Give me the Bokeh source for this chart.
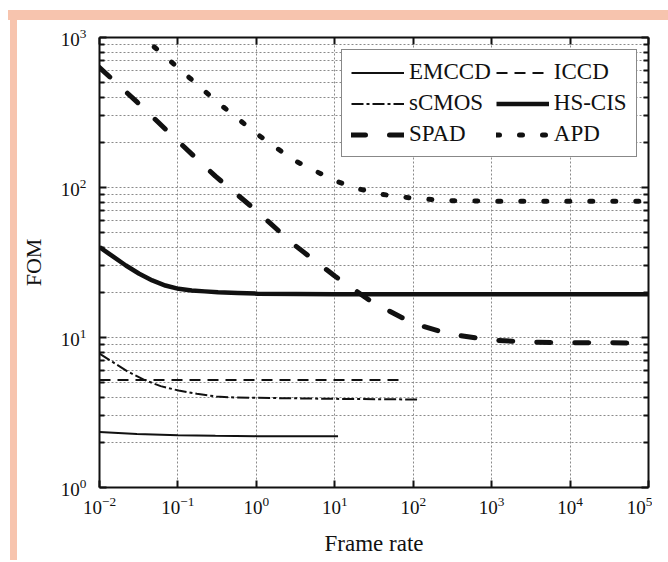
from bokeh.plotting import figure
from bokeh.layouts import column, row
from bokeh.models import LogAxis, Legend, LegendItem, CustomJSTickFormatter, FixedTicker, Div
from bokeh.embed import file_html
from bokeh.resources import INLINE

# ---- data ----
emccd_f = [0.01, 0.03, 0.1, 0.3, 1, 3, 11]
emccd_v = [2.34, 2.27, 2.23, 2.21, 2.2, 2.2, 2.2]

iccd_f = [0.01, 0.1, 1, 10, 66]
iccd_v = [5.2, 5.2, 5.2, 5.2, 5.2]

scmos_f = [0.01, 0.0229, 0.0372, 0.0603, 0.102, 0.174, 0.309, 0.55, 1, 10, 112]
scmos_v = [7.8, 5.93, 5.22, 4.74, 4.43, 4.21, 4.04, 3.98, 3.96, 3.90, 3.86]

hscis_f = [0.01, 0.0148, 0.0217, 0.0321, 0.0471, 0.0692, 0.102, 0.15, 0.22, 0.325, 0.58, 1.03, 10, 100, 1e5]
hscis_v = [40.0, 34.7, 30.2, 26.6, 24.0, 22.2, 21.1, 20.6, 20.3, 20.0, 19.8, 19.6, 19.4, 19.4, 19.4]

spad_f = [0.01, 0.03, 0.1, 0.3, 1, 3, 10, 30, 100, 300, 1000, 3000, 1e4, 1e5]
spad_v = [631, 372, 204, 119, 70, 41.7, 25.7, 17.2, 12.4, 10.5, 9.6, 9.33, 9.22, 9.2]

apd_f = [0.03, 0.1, 0.3, 1, 3, 10, 20, 40, 100, 300, 1000, 1e5]
apd_v = [1090, 630, 380, 229, 152, 111, 98, 90, 84.7, 81.7, 81, 81]

x_ticks = [1e-2, 1e-1, 1, 1e1, 1e2, 1e3, 1e4, 1e5]
y_ticks = [1, 10, 100, 1000]
y_minor = [m * d for d in (1, 10, 100) for m in range(2, 10)]

SERIF = "Liberation Serif"
INK = "#111111"
SALMON = "#F7C4AE"

p = figure(width=635, height=540, x_axis_type="log", y_axis_type="log",
           x_range=(1e-2, 1e5), y_range=(1, 1e3),
           output_backend="svg", toolbar_location=None,
           min_border_left=75, min_border_right=4, min_border_top=17,
           min_border_bottom=73)
p.margin = 0
p.outline_line_color = None
p.background_fill_color = "white"
p.border_fill_color = "white"

xt = FixedTicker(ticks=x_ticks, minor_ticks=[])
yt = FixedTicker(ticks=y_ticks, minor_ticks=y_minor)

def style_axis(ax, label_size="19px"):
    ax.axis_line_color = INK
    ax.axis_line_width = 2
    ax.major_tick_line_color = INK
    ax.major_tick_line_width = 2
    ax.major_tick_in = 7
    ax.major_tick_out = 0
    ax.minor_tick_line_color = INK
    ax.minor_tick_line_width = 2
    ax.minor_tick_in = 5
    ax.minor_tick_out = 0
    ax.major_label_text_font = SERIF
    ax.major_label_text_font_size = label_size
    ax.major_label_text_color = INK
    ax.axis_label_text_font = SERIF
    ax.axis_label_text_font_style = "normal"
    ax.axis_label_text_color = INK

xa = p.xaxis[0]
ya = p.yaxis[0]
xa.ticker = xt
ya.ticker = yt
style_axis(xa)
style_axis(ya)
xa.axis_label = "Frame rate"
xa.axis_label_text_font_size = "23px"
xa.major_label_standoff = 9
xa.axis_label_standoff = 14
ya.axis_label = "FOM"
ya.axis_label_text_font_size = "22px"
ya.major_label_standoff = 13
ya.axis_label_standoff = 12

blank = CustomJSTickFormatter(code="return ''")
top = LogAxis(ticker=xt, formatter=blank)
right = LogAxis(ticker=yt, formatter=blank)
for ax in (top, right):
    style_axis(ax)
    ax.major_label_standoff = 0
    ax.major_label_text_font_size = "1px"
p.add_layout(top, "above")
p.add_layout(right, "right")

for g in (p.xgrid[0], p.ygrid[0]):
    g.grid_line_color = "#8a8a8a"
    g.grid_line_dash = "2 2"
    g.grid_line_width = 1
p.xgrid[0].ticker = xt
p.ygrid[0].ticker = yt
p.ygrid[0].minor_grid_line_color = "#8a8a8a"
p.ygrid[0].minor_grid_line_dash = "2 2"
p.ygrid[0].minor_grid_line_width = 1

r_em = p.line(emccd_f, emccd_v, line_color=INK, line_width=2)
r_ic = p.line(iccd_f, iccd_v, line_color=INK, line_width=2, line_dash="11 7")
r_sc = p.line(scmos_f, scmos_v, line_color=INK, line_width=2, line_dash="12 3 3 3")
r_hs = p.line(hscis_f, hscis_v, line_color=INK, line_width=4.5, line_join="round")
r_sp = p.line(spad_f, spad_v, line_color=INK, line_width=5, line_dash="14 24", line_cap="round")
r_ap = p.line(apd_f, apd_v, line_color=INK, line_width=5, line_dash="3 20", line_cap="round")

legend = Legend(items=[
    LegendItem(label="EMCCD", renderers=[r_em]),
    LegendItem(label="ICCD", renderers=[r_ic]),
    LegendItem(label="sCMOS", renderers=[r_sc]),
    LegendItem(label="HS-CIS", renderers=[r_hs]),
    LegendItem(label="SPAD", renderers=[r_sp]),
    LegendItem(label="APD", renderers=[r_ap]),
], location=(242, 330), orientation="horizontal", ncols=2)
legend.label_text_font = SERIF
legend.label_text_font_size = "23px"
legend.label_text_color = INK
legend.glyph_width = 53
legend.glyph_height = 25
legend.label_height = 25
legend.label_standoff = 5
legend.spacing = 5
legend.padding = 9
legend.margin = 0
legend.border_line_color = INK
legend.border_line_width = 1.5
legend.background_fill_color = "white"
legend.background_fill_alpha = 1
p.add_layout(legend)

top_band = Div(text="", width=660, height=10, margin=(10, 0, 0, 8),
               styles={"background-color": SALMON})
left_band = Div(text="", width=7, height=540, margin=(0, 0, 0, 10),
                styles={"background-color": SALMON})
page = column(top_band, row(left_band, p, spacing=0), spacing=0)

open("out.html", "w").write(file_html(page, INLINE))
